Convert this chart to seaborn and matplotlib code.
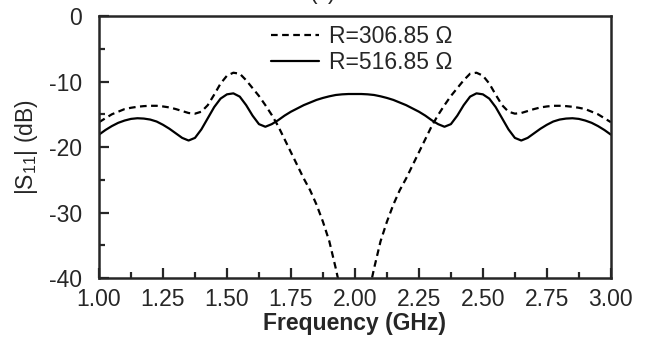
import matplotlib
matplotlib.use("Agg")
import matplotlib.pyplot as plt
import seaborn as sns
import pandas as pd
from matplotlib.ticker import MultipleLocator
from matplotlib.lines import Line2D

# Frequency sweep (GHz)
freq = [
    1.000, 1.025, 1.050, 1.075, 1.100, 1.125, 1.150, 1.175, 1.200, 1.225,
    1.250, 1.275, 1.300, 1.325, 1.350, 1.375, 1.400, 1.425, 1.450, 1.475,
    1.500, 1.525, 1.550, 1.575, 1.600, 1.625, 1.650, 1.675, 1.700, 1.725,
    1.750, 1.775, 1.800, 1.825, 1.850, 1.875, 1.900, 1.925, 1.950, 1.975,
    2.000, 2.025, 2.050, 2.075, 2.100, 2.125, 2.150, 2.175, 2.200, 2.225,
    2.250, 2.275, 2.300, 2.325, 2.350, 2.375, 2.400, 2.425, 2.450, 2.475,
    2.500, 2.525, 2.550, 2.575, 2.600, 2.625, 2.650, 2.675, 2.700, 2.725,
    2.750, 2.775, 2.800, 2.825, 2.850, 2.875, 2.900, 2.925, 2.950, 2.975,
    3.000,
]

# |S11| in dB for R = 306.85 ohm
s11_r306 = [
    -16.2, -15.6, -15.0, -14.6, -14.2, -14.0, -13.85, -13.75, -13.7, -13.7,
    -13.8, -13.95, -14.2, -14.5, -14.8, -14.9, -14.6, -13.6, -12.0, -10.3,
    -9.1, -8.65, -8.8, -9.8, -11.0, -12.2, -13.6, -15.1, -16.8, -18.8,
    -20.8, -22.8, -24.8, -26.6, -28.8, -31.4, -34.4, -38.5, -43.0, -48.0,
    -55.0, -48.0, -43.0, -38.5, -34.4, -31.4, -28.8, -26.6, -24.8, -22.8,
    -20.8, -18.8, -16.8, -15.1, -13.6, -12.2, -11.0, -9.8, -8.8, -8.65,
    -9.1, -10.3, -12.0, -13.6, -14.6, -14.9, -14.8, -14.5, -14.2, -13.95,
    -13.8, -13.7, -13.7, -13.75, -13.85, -14.0, -14.2, -14.6, -15.0, -15.6,
    -16.2,
]

# |S11| in dB for R = 516.85 ohm
s11_r516 = [
    -18.1, -17.4, -16.8, -16.3, -15.95, -15.7, -15.6, -15.65, -15.8, -16.1,
    -16.6, -17.2, -17.9, -18.6, -19.0, -18.6, -17.3, -15.6, -13.9, -12.6,
    -11.95, -11.8, -12.3, -13.6, -15.2, -16.5, -16.9, -16.5, -15.9, -15.2,
    -14.6, -14.1, -13.6, -13.2, -12.8, -12.5, -12.25, -12.05, -11.95, -11.9,
    -11.9, -11.9, -11.95, -12.05, -12.25, -12.5, -12.8, -13.2, -13.6, -14.1,
    -14.6, -15.2, -15.9, -16.5, -16.9, -16.5, -15.2, -13.6, -12.3, -11.8,
    -11.95, -12.6, -13.9, -15.6, -17.3, -18.6, -19.0, -18.6, -17.9, -17.2,
    -16.6, -16.1, -15.8, -15.65, -15.6, -15.7, -15.95, -16.3, -16.8, -17.4,
    -18.1,
]

labels = ["R=306.85 \u03a9", "R=516.85 \u03a9"]

x_ticks = [1.00, 1.25, 1.50, 1.75, 2.00, 2.25, 2.50, 2.75, 3.00]
y_ticks = [0, -10, -20, -30, -40]

df = pd.DataFrame({
    "Frequency": freq * 2,
    "S11": s11_r306 + s11_r516,
    "Case": [labels[0]] * len(freq) + [labels[1]] * len(freq),
})

sns.set_style("ticks")
plt.rcParams["font.family"] = ["Liberation Sans", "DejaVu Sans"]
plt.rcParams["mathtext.fontset"] = "custom"
plt.rcParams["mathtext.rm"] = "Liberation Sans"
plt.rcParams["mathtext.it"] = "Liberation Sans"

FS = 16.5
fig = plt.figure(figsize=(6.54, 3.42), dpi=100)
ax = fig.add_axes([0.1514, 0.187, 0.7826, 0.766])

sns.lineplot(
    data=df, x="Frequency", y="S11", hue="Case", style="Case",
    palette=["black", "black"],
    dashes={labels[0]: (3, 2), labels[1]: ""},
    linewidth=1.6, ax=ax, legend=False,
)

ax.set_xlim(1.0, 3.0)
ax.set_ylim(-40, 0)
ax.set_xticks(x_ticks)
ax.set_xticklabels([f"{t:.2f}" for t in x_ticks])
ax.set_yticks(y_ticks)
ax.set_yticklabels([f"{t:d}" for t in y_ticks])
ax.xaxis.set_minor_locator(MultipleLocator(0.125))
ax.yaxis.set_minor_locator(MultipleLocator(5))

ax.tick_params(which="major", direction="in", length=7, width=1.6,
               labelsize=FS, top=False, right=False)
ax.tick_params(axis="x", which="major", pad=7)
ax.tick_params(axis="y", which="major", pad=12)
ax.tick_params(which="minor", direction="in", length=4, width=1.6,
               top=False, right=False)
for sp in ax.spines.values():
    sp.set_linewidth(1.8)
    sp.set_visible(True)

ax.set_xlabel("Frequency (GHz)", fontsize=FS, fontweight="bold", labelpad=1)
ax.set_ylabel("|S$_{11}$| (dB)", fontsize=FS, labelpad=7)

handles = [
    Line2D([], [], color="black", lw=1.6, dashes=(3, 2)),
    Line2D([], [], color="black", lw=1.6),
]
ax.legend(handles, labels, loc="upper left", bbox_to_anchor=(0.336, 0.966),
          frameon=False, fontsize=FS, handlelength=2.1, handletextpad=0.45,
          labelspacing=0.15, borderpad=0.0, borderaxespad=0.0)

fig.text(0.494, 1.004, "(c)", ha="center", va="baseline", fontsize=FS)

fig.savefig("out.png", dpi=100)
